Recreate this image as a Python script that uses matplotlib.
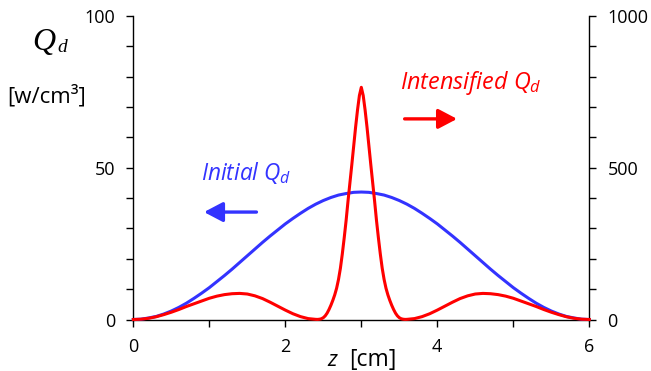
import matplotlib
matplotlib.use("Agg")
import matplotlib.pyplot as plt
import numpy as np

plt.rcParams['font.family'] = ['Open Sans', 'DejaVu Sans']
plt.rcParams['mathtext.fontset'] = 'custom'
plt.rcParams['mathtext.rm'] = 'Open Sans'
plt.rcParams['mathtext.it'] = 'Open Sans:italic'

# ---- data ----
z_blue = [0.0, 0.1, 0.2, 0.3, 0.4, 0.5, 0.6, 0.7, 0.8, 0.9, 1.0, 1.1, 1.2, 1.3, 1.4,
          1.5, 1.6, 1.7, 1.8, 1.9, 2.0, 2.1, 2.2, 2.3, 2.4, 2.5, 2.6, 2.7, 2.8, 2.9,
          3.0, 3.1, 3.2, 3.3, 3.4, 3.5, 3.6, 3.7, 3.8, 3.9, 4.0, 4.1, 4.2, 4.3, 4.4,
          4.5, 4.6, 4.7, 4.8, 4.9, 5.0, 5.1, 5.2, 5.3, 5.4, 5.5, 5.6, 5.7, 5.8, 5.9, 6.0]
q_initial = [0.0, 0.1, 0.5, 1.0, 1.8, 2.8, 4.0, 5.4, 7.0, 8.7, 10.5, 12.5, 14.5, 16.6, 18.8,
             21.0, 23.2, 25.4, 27.5, 29.5, 31.5, 33.3, 35.0, 36.6, 38.0, 39.2, 40.2, 41.0, 41.5, 41.9,
             42.0, 41.9, 41.5, 41.0, 40.2, 39.2, 38.0, 36.6, 35.0, 33.3, 31.5, 29.5, 27.5, 25.4, 23.2,
             21.0, 18.8, 16.6, 14.5, 12.5, 10.5, 8.7, 7.0, 5.4, 4.0, 2.8, 1.8, 1.0, 0.5, 0.1, 0.0]

z_red = [0.0, 0.1, 0.2, 0.3, 0.4, 0.5, 0.6, 0.7, 0.8, 0.9, 1.0, 1.1, 1.2, 1.3, 1.4,
         1.5, 1.6, 1.7, 1.8, 1.9, 2.0, 2.1, 2.2, 2.3,
         2.4, 2.425, 2.45, 2.475, 2.5, 2.525, 2.55, 2.575, 2.6, 2.625, 2.65, 2.675,
         2.7, 2.725, 2.75, 2.775, 2.8, 2.825, 2.85, 2.875, 2.9, 2.925, 2.95, 2.975,
         3.0, 3.025, 3.05, 3.075, 3.1, 3.125, 3.15, 3.175, 3.2, 3.225, 3.25, 3.275,
         3.3, 3.325, 3.35, 3.375, 3.4, 3.425, 3.45, 3.475, 3.5, 3.525, 3.55, 3.575, 3.6,
         3.7, 3.8, 3.9, 4.0, 4.1, 4.2, 4.3, 4.4, 4.5, 4.6, 4.7, 4.8, 4.9, 5.0,
         5.1, 5.2, 5.3, 5.4, 5.5, 5.6, 5.7, 5.8, 5.9, 6.0]
q_intensified = [0, 1, 4, 9, 16, 24, 33, 43, 52, 61, 70, 77, 82, 85, 86,
                 84, 78, 69, 57, 44, 31, 19, 9.5, 3,
                 0.5, 0.3, 1, 2.5, 6, 12, 21, 33, 47, 63, 81, 103,
                 132, 169, 216, 269, 326, 390, 450, 510, 572, 634, 690, 738,
                 765, 738, 690, 634, 572, 510, 450, 390, 326, 269, 216, 169,
                 132, 103, 81, 63, 47, 33, 21, 12, 6, 2.5, 1, 0.3, 0.5,
                 3, 9.5, 19, 31, 44, 57, 69, 78, 84, 86, 85, 82, 77, 70,
                 61, 52, 43, 33, 24, 16, 9, 4, 1, 0]

BLUE = '#3333ff'
RED = '#ff0000'

fig = plt.figure(figsize=(6.51, 3.71), dpi=100)
ax = fig.add_axes([0.2048, 0.1388, 0.7004, 0.8181])
ax2 = ax.twinx()

ax.plot(z_blue, q_initial, color=BLUE, lw=2.2, clip_on=False, zorder=3)
ax2.plot(z_red, q_intensified, color=RED, lw=2.2, clip_on=False, zorder=3)

ax.set_xlim(0, 6)
ax.set_ylim(0, 100)
ax2.set_ylim(0, 1000)

ax.set_xticks([0, 2, 4, 6])
ax.set_xticks([1, 3, 5], minor=True)
ax.set_yticks([0, 50, 100])
ax.set_yticks(np.arange(10, 100, 10), minor=True)
ax2.set_yticks([0, 500, 1000])
ax2.set_yticks(np.arange(100, 1000, 100), minor=True)

for a in (ax, ax2):
    a.spines['top'].set_visible(False)
    for s in a.spines.values():
        s.set_linewidth(1.0)
    a.tick_params(which='both', direction='out', length=5, width=1.0,
                  labelsize=13, pad=8)
ax.spines['right'].set_visible(False)
ax2.spines['left'].set_visible(False)
ax2.spines['bottom'].set_visible(False)

# labels
fig.text(32 / 651, 1 - 50 / 371, 'Q', family='Liberation Serif', style='italic',
         fontsize=23, va='baseline', ha='left')
fig.text(57 / 651, 1 - 51.5 / 371, 'd', family='Liberation Serif', style='italic',
         fontsize=14, va='baseline', ha='left')
fig.text(7 / 651, 1 - 96 / 371, '[w/cm³]', fontsize=16, va='center', ha='left')
fig.text(327 / 651, 1 - 366 / 371, 'z', fontsize=16, style='italic',
         va='baseline', ha='left')
fig.text(349 / 651, 1 - 366 / 371, '[cm]', fontsize=16.5, va='baseline', ha='left')

ax.text(0.89, 46.0, r'Initial $Q_d$', color=BLUE, style='italic', fontsize=16.3,
        va='baseline', ha='left')
ax.text(3.51, 75.8, r'Intensified $Q_d$', color=RED, style='italic', fontsize=16.8,
        va='baseline', ha='left', zorder=5)

ax.annotate('', xy=(0.93, 35.4), xytext=(1.62, 35.4),
            arrowprops=dict(arrowstyle='-|>,head_length=0.95,head_width=0.5',
                            mutation_scale=12, color=BLUE, lw=2.4,
                            shrinkA=0, shrinkB=0))
ax.annotate('', xy=(4.26, 66.1), xytext=(3.57, 66.1),
            arrowprops=dict(arrowstyle='-|>,head_length=0.95,head_width=0.5',
                            mutation_scale=12, color=RED, lw=2.4,
                            shrinkA=0, shrinkB=0), zorder=5)

fig.savefig('out.png', dpi=100)
